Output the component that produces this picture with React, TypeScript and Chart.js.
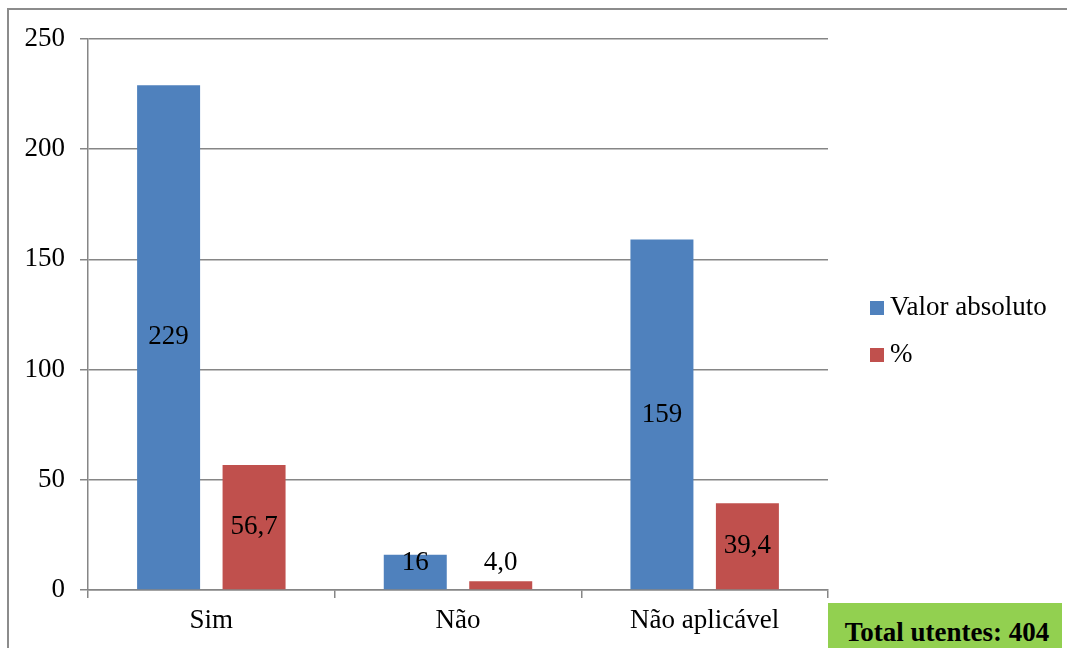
import React, { useEffect, useRef } from "react";
import { Chart, registerables } from "chart.js";

Chart.register(...registerables);

const categories = ["Sim", "Não", "Não aplicável"];
const absoluteValues = [229, 16, 159];
const percentValues = [56.7, 4.0, 39.4];
const seriesNames = ["Valor absoluto", "%"];
const seriesColors = ["#4F81BD", "#C0504D"];
const yMin = 0;
const yMax = 250;
const yStep = 50;
const totalLabel = "Total utentes: 404";

const FONT = "'Liberation Serif', 'Times New Roman', serif";
const FS = 27;
const GRID = "#868686";

const formatValue = (dsIndex: number, v: number) =>
  dsIndex === 0 ? String(Math.round(v)) : v.toFixed(1).replace(".", ",");

const labelPlugin = {
  id: "barLabels",
  afterDatasetsDraw(chart: any) {
    const ctx = chart.ctx;
    ctx.save();
    ctx.font = `${FS}px ${FONT}`;
    ctx.fillStyle = "#000";
    ctx.textAlign = "center";
    ctx.textBaseline = "middle";
    chart.data.datasets.forEach((ds: any, di: number) => {
      const meta = chart.getDatasetMeta(di);
      meta.data.forEach((el: any, i: number) => {
        const v = ds.data[i];
        const y = Math.min((el.y + el.base) / 2, el.base - 26);
        ctx.fillText(formatValue(di, v), el.x, y);
      });
    });
    ctx.restore();
  },
};

const legendPlugin = {
  id: "sideLegend",
  afterDraw(chart: any) {
    const ctx = chart.ctx;
    const area = chart.chartArea;
    ctx.save();
    ctx.font = `${FS}px ${FONT}`;
    ctx.textBaseline = "middle";
    ctx.textAlign = "left";
    const x0 = area.right + 42;
    const ys = [308, 355];
    chart.data.datasets.forEach((ds: any, i: number) => {
      ctx.fillStyle = ds.backgroundColor;
      ctx.fillRect(x0, ys[i] - 7, 14, 14);
      ctx.fillStyle = "#000";
      ctx.fillText(ds.label, x0 + 20, ys[i]);
    });
    ctx.restore();
  },
};

export default function App() {
  const ref = useRef<HTMLCanvasElement | null>(null);

  useEffect(() => {
    if (!ref.current) return;
    const chart = new Chart(ref.current, {
      type: "bar",
      data: {
        labels: categories,
        datasets: [
          {
            label: seriesNames[0],
            data: absoluteValues,
            backgroundColor: seriesColors[0],
            borderWidth: 0,
            categoryPercentage: 0.693,
            barPercentage: 0.737,
          },
          {
            label: seriesNames[1],
            data: percentValues,
            backgroundColor: seriesColors[1],
            borderWidth: 0,
            categoryPercentage: 0.693,
            barPercentage: 0.737,
          },
        ],
      },
      options: {
        animation: false,
        responsive: false,
        maintainAspectRatio: false,
        layout: { padding: { left: 10, right: 239, top: 39, bottom: 10 } },
        plugins: {
          legend: { display: false },
          tooltip: { enabled: false },
        },
        scales: {
          x: {
            offset: true,
            grid: {
              display: true,
              offset: true,
              drawOnChartArea: false,
              drawTicks: true,
              tickLength: 8,
              color: GRID,
              lineWidth: 1.5,
            },
            border: { display: true, color: GRID, width: 1.5 },
            ticks: {
              color: "#000",
              font: { family: FONT, size: FS },
              padding: 7,
            },
            afterFit(scale: any) {
              scale.height = 48;
            },
          },
          y: {
            min: yMin,
            max: yMax,
            ticks: {
              stepSize: yStep,
              color: "#000",
              font: { family: FONT, size: FS },
              padding: 15,
            },
            grid: {
              color: GRID,
              lineWidth: 1.5,
              tickLength: 8,
              drawTicks: true,
            },
            border: { display: true, color: GRID, width: 1.5 },
            afterFit(scale: any) {
              scale.width = 78;
            },
          },
        },
      },
      plugins: [labelPlugin, legendPlugin],
    });
    return () => chart.destroy();
  }, []);

  return (
    <div
      style={{
        position: "fixed",
        left: 0,
        top: 0,
        width: 1067,
        height: 648,
        overflow: "hidden",
        background: "#fff",
      }}
    >
      <div
        style={{
          position: "absolute",
          left: 7,
          top: 8,
          width: 1100,
          height: 700,
          borderLeft: "2px solid #8c8c8c",
          borderTop: "2px solid #8c8c8c",
        }}
      />
      <canvas
        ref={ref}
        width={1067}
        height={648}
        style={{ position: "absolute", left: 0, top: 0, width: 1067, height: 648 }}
      />
      <div
        style={{
          position: "absolute",
          left: 828,
          top: 603,
          width: 234,
          height: 60,
          background: "#92D050",
          fontFamily: FONT,
          fontWeight: "bold",
          fontSize: FS,
          color: "#000",
          textAlign: "center",
          lineHeight: "58px",
          paddingLeft: 4,
          boxSizing: "border-box",
          whiteSpace: "nowrap",
        }}
      >
        {totalLabel}
      </div>
    </div>
  );
}
